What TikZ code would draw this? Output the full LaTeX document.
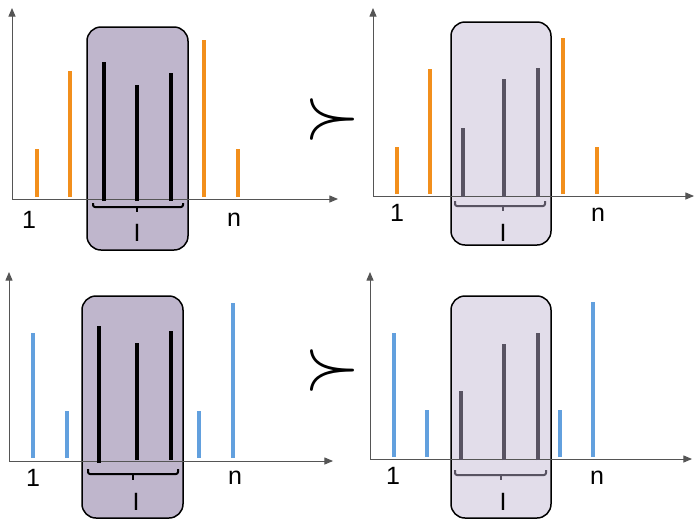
\documentclass[tikz,border=0pt]{standalone}
\usepackage{amsmath}
\usepackage{amssymb}
\usepackage{graphicx}
\usepackage{fontspec}
\setmainfont{Liberation Sans}
\usetikzlibrary{arrows}
\definecolor{barorange}{RGB}{242,143,28}
\definecolor{barblue}{RGB}{98,160,222}
\definecolor{boxdark}{RGB}{191,182,204}
\definecolor{boxlight}{RGB}{226,221,234}
\definecolor{bargray}{RGB}{88,83,98}
\definecolor{axisgray}{RGB}{85,85,85}
\tikzset{
  axis/.style={->,line width=1.pt,color=axisgray},
  bar/.style={line width=4.pt},
  window/.style={line width=1.5pt,rounded corners=14pt,draw=black},
  brace/.style={line width=2.pt,rounded corners=2pt},
  lbl/.style={font=\fontsize{25}{30}\selectfont,inner sep=0pt},
  order/.style={inner sep=0pt},
}
\begin{document}
\begin{tikzpicture}[line join=round,>=triangle 45,x=1pt,y=-1pt]
\useasboundingbox (0,0) rectangle (696,520);
% top left
\draw [window,fill=boxdark] (87,27) rectangle (188,250);
\draw [axis] (12,199) -- (12,8);
\draw [axis] (12,199) -- (338,199);
\foreach \x/\y in {37/149,70/71,204/40,238/149}
  \draw [bar,color=barorange] (\x,197) -- (\x,\y);
\foreach \x/\y in {104/62,137/85,171/73}
  \draw [bar,color=black] (\x,201) -- (\x,\y);
\draw [brace] (93,203) -- (93,207) -- (183,207) -- (183,203);
\draw [line width=2.pt] (137,207) -- (137,212);
\node [lbl] (one1) at (29,220) {1};
\node [lbl] (n1) at (234,220) {n};
\node [lbl] (I1) at (137,233) {I};
% top right
\draw [window,fill=boxlight] (451,22) rectangle (551,245);
\draw [axis] (373,196) -- (373,8);
\draw [axis] (373,196) -- (694,196);
\foreach \x/\y in {397/147,430/69,563/38,597/147}
  \draw [bar,color=barorange] (\x,194) -- (\x,\y);
\foreach \x/\y in {463/128,504/79,538/68}
  \draw [bar,line width=3.5pt,color=bargray] (\x,197) -- (\x,\y);
\draw [brace,color=bargray] (455,201) -- (455,206) -- (545,206) -- (545,201);
\draw [line width=2.pt,color=bargray] (503,206) -- (503,211);
\node [lbl] (one2) at (397,213) {1};
\node [lbl] (n2) at (598,215) {n};
\node [lbl] (I2) at (503,233) {I};
% bottom left
\draw [window,fill=boxdark] (82,296) rectangle (183,518);
\draw [axis] (9,461) -- (9,272);
\draw [axis] (9,461) -- (333,461);
\foreach \x/\y in {33/333,67/411,199/411,233/303}
  \draw [bar,color=barblue] (\x,458) -- (\x,\y);
\foreach \x/\y/\z in {99/326/463,137/343/460,171/331/460}
  \draw [bar,color=black] (\x,\z) -- (\x,\y);
\draw [brace] (88,469) -- (88,474) -- (178,474) -- (178,469);
\draw [line width=2.pt] (133,474) -- (133,480);
\node [lbl] (one3) at (33,478) {1};
\node [lbl] (n3) at (235,478) {n};
\node [lbl] (I3) at (136,502) {I};
% bottom right
\draw [window,fill=boxlight] (451,296) rectangle (551,518);
\draw [axis] (370,459) -- (370,272);
\draw [axis] (370,459) -- (692,459);
\foreach \x/\y in {394/333,427/410,560/410,593/302}
  \draw [bar,color=barblue] (\x,457) -- (\x,\y);
\foreach \x/\y in {461/391,504/344,538/333}
  \draw [bar,line width=3.5pt,color=bargray] (\x,460) -- (\x,\y);
\draw [brace,color=bargray] (455,470) -- (455,475) -- (546,475) -- (546,470);
\draw [line width=2.pt,color=bargray] (501,475) -- (501,480);
\node [lbl] (one4) at (393,476) {1};
\node [lbl] (n4) at (597,478) {n};
\node [lbl] (I4) at (503,502) {I};
% order symbols
\node [order] (succ1) at (332,119) {\scalebox{7.2}{$\succ$}};
\node [order] (succ2) at (332,370) {\scalebox{7.2}{$\succ$}};
\end{tikzpicture}
\end{document}
